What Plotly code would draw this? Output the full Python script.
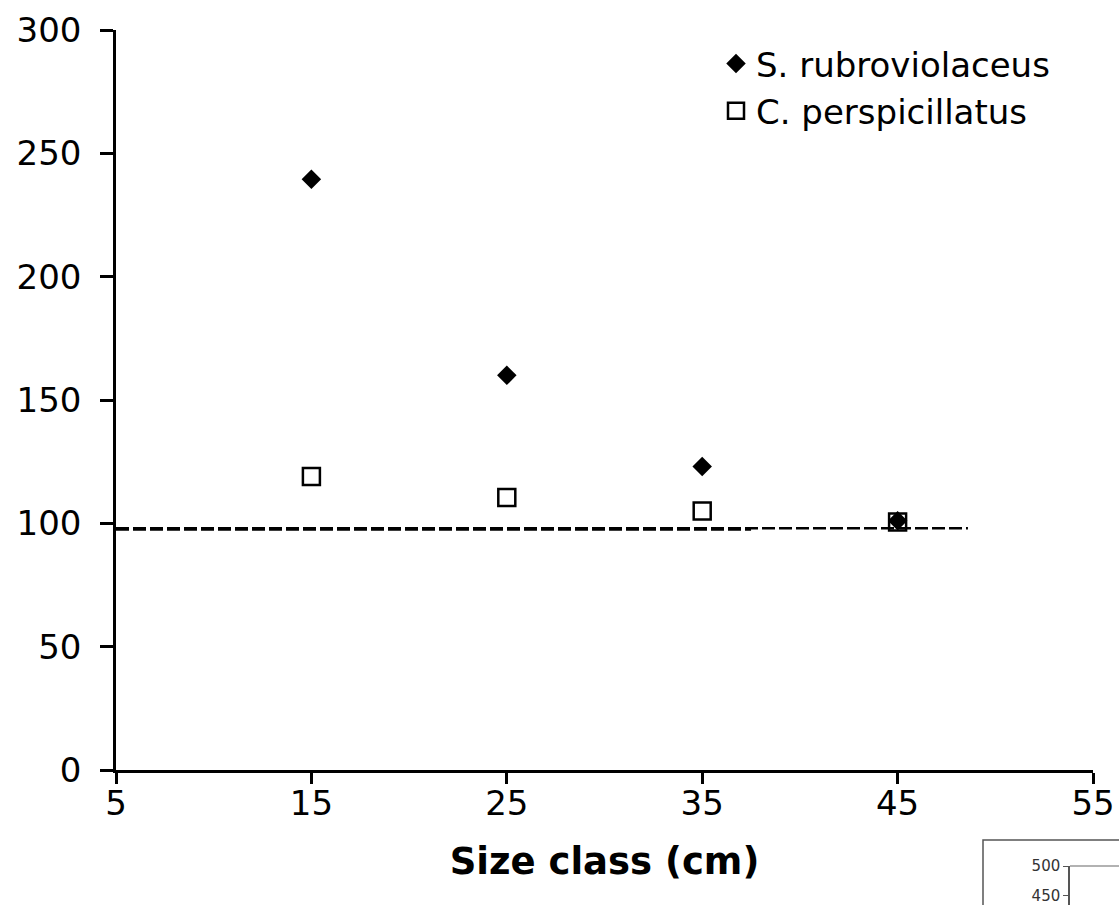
import plotly.graph_objects as go

# Size classes (cm) and relative values for each species
size_class = [15, 25, 35, 45]
s_rubroviolaceus = [239.5, 160, 123, 101]
c_perspicillatus = [119, 110.5, 105, 100.5]

# Reference (dashed) lines
ref_x_long = [5, 48.6]
ref_y_long = [98, 98]
ref_x_short = [5, 37.5]
ref_y_short = [97.4, 97.4]

x_ticks = [5, 15, 25, 35, 45, 55]
y_ticks = [0, 50, 100, 150, 200, 250, 300]
inset_ticks = [450, 500]

W, H = 1119, 905
FONT = "DejaVu Sans"

fig = go.Figure()

fig.add_trace(go.Scatter(
    x=ref_x_short, y=ref_y_short, mode="lines",
    line=dict(color="black", width=2, dash="13px,4px"),
    showlegend=False, hoverinfo="skip",
))
fig.add_trace(go.Scatter(
    x=ref_x_long, y=ref_y_long, mode="lines",
    line=dict(color="black", width=2.5, dash="13px,4px"),
    showlegend=False, hoverinfo="skip",
))

fig.add_trace(go.Scatter(
    x=size_class, y=s_rubroviolaceus, mode="markers",
    name="S. rubroviolaceus", legendgroup="a",
    marker=dict(symbol="diamond", size=15, color="black",
                line=dict(width=0)),
))
fig.add_trace(go.Scatter(
    x=size_class, y=c_perspicillatus, mode="markers",
    name="C. perspicillatus", legendgroup="b",
    marker=dict(symbol="square-open", size=17, color="black",
                line=dict(width=2.5, color="black")),
))

# Small partial inset axis in the lower-right corner
fig.add_trace(go.Scatter(
    x=[0], y=[400], mode="markers", xaxis="x2", yaxis="y2",
    marker=dict(size=1, color="rgba(0,0,0,0)"),
    showlegend=False, hoverinfo="skip",
))

def px_x(p):
    return p / W

def px_y(p):
    return 1 - p / H

fig.update_layout(
    width=W, height=H,
    margin=dict(l=0, r=0, t=0, b=0, autoexpand=False),
    paper_bgcolor="white", plot_bgcolor="white",
    font=dict(family=FONT, color="black", size=34),
    xaxis=dict(
        domain=[px_x(116), px_x(1093)],
        range=[5, 55], tickvals=x_ticks,
        showline=True, linecolor="black", linewidth=2.5,
        ticks="outside", ticklen=11, tickwidth=2.5, tickcolor="black",
        ticklabelstandoff=-10,
        showgrid=False, zeroline=False, automargin=False,
        tickfont=dict(size=34, family=FONT),
        title=dict(text="<b>Size class (cm)</b>", font=dict(size=37, family=FONT),
                   standoff=27),
        anchor="y",
    ),
    yaxis=dict(
        domain=[px_y(770), px_y(30)],
        range=[0, 300], tickvals=y_ticks,
        showline=True, linecolor="black", linewidth=2.5,
        ticks="outside", ticklen=13, tickwidth=2.5, tickcolor="black",
        ticklabelstandoff=12,
        showgrid=False, zeroline=False, automargin=False,
        tickfont=dict(size=34, family=FONT),
        anchor="x",
    ),
    xaxis2=dict(
        domain=[px_x(1070), 1.0], range=[0, 1],
        showline=False, showticklabels=False, ticks="", showgrid=False,
        zeroline=False, automargin=False, anchor="y2",
    ),
    yaxis2=dict(
        domain=[0, px_y(866)], range=[434, 500], tickvals=inset_ticks,
        showline=True, linecolor="#555555", linewidth=1.5,
        ticks="outside", ticklen=5, tickwidth=1, tickcolor="#555555",
        ticklabeloverflow="allow",
        showgrid=False, zeroline=False, automargin=False,
        tickfont=dict(size=15, family=FONT, color="#333333"),
        anchor="x2",
    ),
    legend=dict(
        x=px_x(716), y=px_y(35), xanchor="left", yanchor="top",
        bgcolor="rgba(0,0,0,0)", borderwidth=0,
        font=dict(size=34, family=FONT),
        traceorder="grouped", tracegroupgap=0,
        itemwidth=30,
    ),
    shapes=[
        dict(type="rect", xref="paper", yref="paper",
             x0=px_x(983), x1=1.02, y0=-0.02, y1=px_y(840),
             line=dict(color="#555555", width=1.5), fillcolor="rgba(0,0,0,0)"),
        dict(type="line", xref="paper", yref="paper",
             x0=px_x(1070), x1=1.0, y0=px_y(866), y1=px_y(866),
             line=dict(color="#999999", width=1.5)),
    ],
)

fig.write_html("out.html")
